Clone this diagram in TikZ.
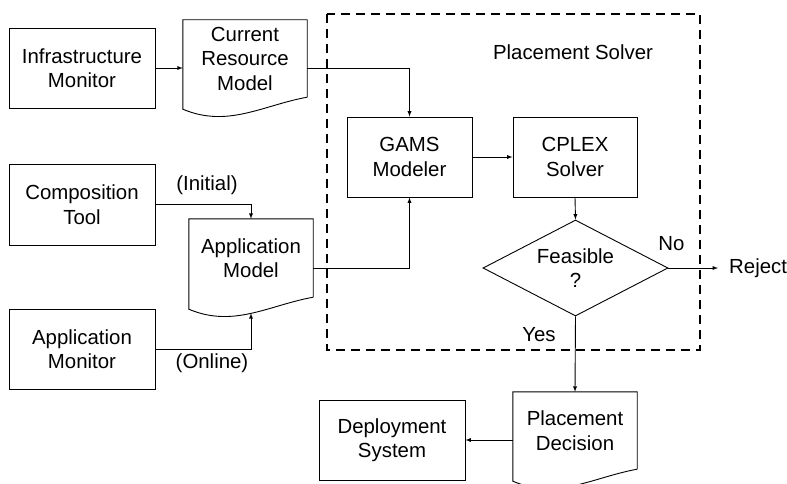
\documentclass[tikz,border=0pt]{standalone}
\usepackage{fontspec}
\setmainfont{Liberation Sans}
\usetikzlibrary{arrows}
\usetikzlibrary{shapes}
\usetikzlibrary{calc}

\tikzset{
  block/.style={draw, line width=0.9pt, align=center, inner sep=0pt},
  docnode/.style={align=center, inner sep=0pt, minimum width=124pt,
    append after command={\pgfextra{
      \draw[line width=0.9pt] (\tikzlastnode.south east) -- (\tikzlastnode.north east)
        -- (\tikzlastnode.north west) -- ($(\tikzlastnode.south west)+(0,12)$)
        .. controls ($(\tikzlastnode.south west)+(45,31)$) and ($(\tikzlastnode.south west)+(80,8)$)
        .. (\tikzlastnode.south east);
    }}},
  decision/.style={diamond, draw, line width=0.9pt, align=center, inner sep=0pt,
    aspect=1.9, minimum width=185pt, minimum height=96pt},
  link/.style={->, >=latex, line width=0.9pt},
  solverbox/.style={draw, line width=2.5pt, dash pattern=on 9pt off 6pt}
}

\begin{document}
\begin{tikzpicture}[x=1pt, y=-1pt, font=\fontsize{20.4}{24.5}\selectfont]
  \useasboundingbox (0,0) rectangle (787,484);

  % solver frame
  \draw[solverbox] (327,14) rectangle (700,350);
  \node (solvername) at (573,52) {Placement Solver};

  % inputs
  \node[block, minimum width=146pt, minimum height=80pt] (infra) at (82,68) {Infrastructure\\Monitor};
  \node[block, minimum width=146pt, minimum height=81pt] (comptool) at (82,204.5) {Composition\\Tool};
  \node[block, minimum width=146pt, minimum height=80pt] (appmon) at (82,349) {Application\\Monitor};

  % models
  \node[docnode, minimum height=77pt] (curmodel) at (245,58.5) {Current\\Resource\\Model};
  \node[docnode, minimum height=78pt] (appmodel) at (251,258) {Application\\Model};

  % solver
  \node[block, minimum width=125pt, minimum height=80pt] (gams) at (409.5,157) {GAMS\\Modeler};
  \node[block, minimum width=124pt, minimum height=80pt] (cplex) at (575,157) {CPLEX\\Solver};
  \node[decision] (feasible) at (575.5,268) {Feasible\\?};
  \node[anchor=west, inner sep=0pt] (reject) at (729,268) {Reject};

  % output
  \node[docnode, minimum height=77pt] (decision) at (575,430.5) {Placement\\Decision};
  \node[block, minimum width=146pt, minimum height=80pt] (deploy) at (392,440) {Deployment\\System};

  % labels
  \node (initial) at (207,185) {(Initial)};
  \node (online) at (212,363) {(Online)};
  \node (no) at (671.5,244) {No};
  \node (yes) at (539,335) {Yes};

  \coordinate (appwave) at ($(appmodel.south)+(0,16)$);
  \coordinate (appout) at ($(appmodel.east)+(0,10)$);

  \draw[link] (infra.east) -- (infra -| curmodel.west);
  \draw[link] (infra -| curmodel.east) -| (gams.north);
  \draw[link] (comptool.east) -| (appmodel.north);
  \draw[link] (appmon.east) -| (appwave);
  \draw[link] (appout) -| (gams.south);
  \draw[link] (gams) -- (cplex);
  \draw[link] (cplex.south) -- (feasible.north);
  \draw[link] (feasible.east) -- ([xshift=-11pt]reject.west);
  \draw[link] (feasible.south) -- (decision.north);
  \draw[link] (decision.west |- deploy) -- (deploy.east);
\end{tikzpicture}
\end{document}
